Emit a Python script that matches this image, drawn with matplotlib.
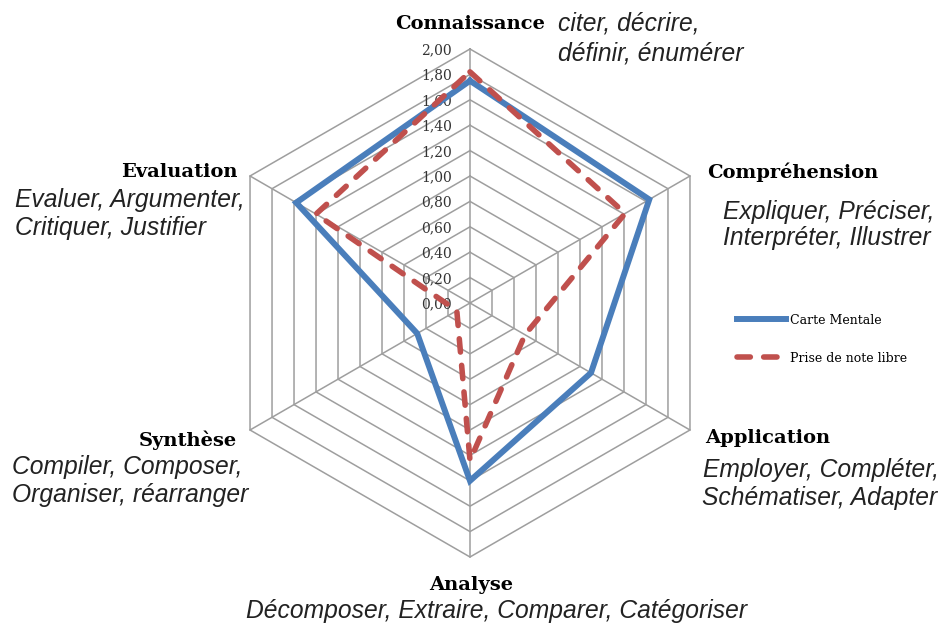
import numpy as np
import matplotlib
matplotlib.use('Agg')
import matplotlib.pyplot as plt

categories = ['Connaissance', 'Compréhension', 'Application', 'Analyse', 'Synthèse', 'Evaluation']
carte_mentale = [1.75, 1.63, 1.10, 1.40, 0.48, 1.58]
prise_note = [1.82, 1.41, 0.50, 1.24, 0.12, 1.40]
rings = [0.2, 0.4, 0.6, 0.8, 1.0, 1.2, 1.4, 1.6, 1.8, 2.0]
tick_labels = ['0,00', '0,20', '0,40', '0,60', '0,80', '1,00', '1,20', '1,40', '1,60', '1,80', '2,00']
series_names = ['Carte Mentale', 'Prise de note libre']

W, H = 941, 625
fig = plt.figure(figsize=(W / 100, H / 100), dpi=100)
cx, cy, R = 470, 303, 254
ax = fig.add_axes([(cx - R) / W, 1 - (cy + R) / H, 2 * R / W, 2 * R / H], projection='polar')
ax.set_theta_offset(np.pi / 2)
ax.set_theta_direction(-1)
ax.set_ylim(0, 2)
ax.grid(False)
ax.set_xticks([])
ax.set_yticks([])
ax.spines['polar'].set_visible(False)
ax.patch.set_visible(False)

n = len(categories)
theta = np.arange(n) * 2 * np.pi / n
theta_c = np.append(theta, theta[0])

grid_col = '#9e9e9e'
for r in rings:
    ax.plot(theta_c, [r] * (n + 1), color=grid_col, lw=1.1, clip_on=False, zorder=1)
for t in theta:
    ax.plot([t, t], [0, 2], color=grid_col, lw=1.1, clip_on=False, zorder=1)

for i, lbl in enumerate(tick_labels):
    ax.annotate(lbl, (0, i * 0.2), xytext=(-13, -1), textcoords='offset points',
                ha='right', va='center', fontsize=10, family='DejaVu Serif', color='#333333')

blue = '#4a7ebb'
red = '#c0504d'
ax.plot(theta_c, carte_mentale + carte_mentale[:1], color=blue, lw=4.3,
        solid_joinstyle='miter', clip_on=False, zorder=3, label=series_names[0])
ax.plot(theta_c, prise_note + prise_note[:1], color=red, lw=4.0, dashes=(2.4, 2.4),
        dash_capstyle='round', clip_on=False, zorder=4, label=series_names[1])

leg = ax.legend(loc='center left', bbox_to_anchor=(737 / W, 1 - 339 / H),
                bbox_transform=fig.transFigure, frameon=False, borderpad=0,
                borderaxespad=0, handlelength=3.9, handletextpad=0.3,
                labelspacing=2.0, prop={'family': 'DejaVu Serif', 'size': 9})

def px(x, y):
    return x / W, 1 - y / H

bold = dict(family='DejaVu Serif', fontweight='bold', fontsize=14, va='center')
ital = dict(family='Liberation Sans', style='italic', fontsize=17.7, va='center', color='#222222')

fig.text(*px(545, 24), 'Connaissance', ha='right', **bold)
fig.text(*px(558, 24), 'citer, décrire,', ha='left', **ital)
fig.text(*px(558, 53), 'définir, énumérer', ha='left', **ital)

fig.text(*px(707, 172), 'Compréhension', ha='left', **bold)
fig.text(*px(723, 212), 'Expliquer, Préciser,', ha='left', **ital)
fig.text(*px(723, 238), 'Interpréter, Illustrer', ha='left', **ital)

fig.text(*px(705, 438), 'Application', ha='left', **bold)
fig.text(*px(703, 470), 'Employer, Compléter,', ha='left', **ital)
fig.text(*px(702, 498), 'Schématiser, Adapter', ha='left', **ital)

fig.text(*px(471, 585), 'Analyse', ha='center', **bold)
fig.text(*px(497, 611), 'Décomposer, Extraire, Comparer, Catégoriser', ha='center', **ital)

fig.text(*px(237, 440), 'Synthèse', ha='right', **bold)
fig.text(*px(12, 467), 'Compiler, Composer,', ha='left', **ital)
fig.text(*px(12, 495), 'Organiser, réarranger', ha='left', **ital)

fig.text(*px(238, 172), 'Evaluation', ha='right', **bold)
fig.text(*px(15, 200), 'Evaluer, Argumenter,', ha='left', **ital)
fig.text(*px(15, 228), 'Critiquer, Justifier', ha='left', **ital)

fig.savefig('out.png', dpi=100)
